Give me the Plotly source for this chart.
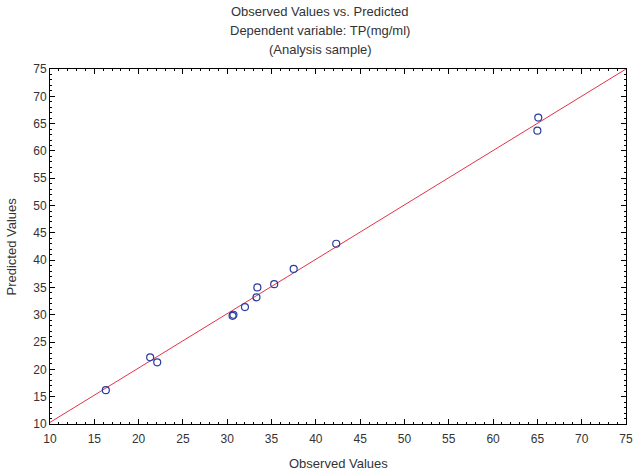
import plotly.graph_objects as go

# ====================================
# Data
# ====================================

observed = [16.3, 21.3, 22.1, 30.6, 30.7, 32.0, 33.3, 33.4, 35.3, 37.5, 42.3, 65.1, 65.0]
predicted = [16.2, 22.2, 21.3, 29.8, 30.0, 31.4, 33.2, 35.0, 35.6, 38.4, 43.0, 66.1, 63.7]

# fitted line end points
fit_x = [10, 75]
fit_y = [10.3, 75.0]

title_lines = [
    "Observed Values vs. Predicted",
    "Dependent variable: TP(mg/ml)",
    "(Analysis sample)",
]

text_color = "#333333"
family = "Liberation Sans, Arial, sans-serif"
font = dict(family=family, size=13, color=text_color)
tick_font = dict(family=family, size=12, color=text_color)

fig = go.Figure()

fig.add_trace(
    go.Scatter(
        x=fit_x,
        y=fit_y,
        mode="lines",
        line=dict(color="rgb(228,50,72)", width=1),
        showlegend=False,
        hoverinfo="skip",
    )
)

fig.add_trace(
    go.Scatter(
        x=observed,
        y=predicted,
        mode="markers",
        marker=dict(
            symbol="circle-open",
            size=7,
            color="rgb(40,60,160)",
            line=dict(width=1.2),
        ),
        showlegend=False,
    )
)

# three line title, each line placed on its own
for i, line in enumerate(title_lines):
    fig.add_annotation(
        text=line,
        xref="paper",
        yref="paper",
        x=0.469,
        y=1.1606 - i * 0.0535,
        xanchor="center",
        yanchor="middle",
        showarrow=False,
        font=font,
    )

# axis titles as annotations (margins are fixed)
fig.add_annotation(
    text="Observed Values",
    xref="paper", yref="paper",
    x=0.5, y=-0.11,
    xanchor="center", yanchor="middle",
    showarrow=False, font=font,
)
fig.add_annotation(
    text="Predicted Values",
    xref="paper", yref="paper",
    x=-0.066, y=0.5,
    xanchor="center", yanchor="middle",
    textangle=-90,
    showarrow=False, font=font,
)

axis_common = dict(
    range=[10, 75],
    dtick=5,
    showgrid=False,
    zeroline=False,
    showline=True,
    linecolor="black",
    linewidth=1,
    mirror="ticks",
    ticks="inside",
    ticklen=5,
    tickcolor="black",
    tickfont=tick_font,
    automargin=False,
    minor=dict(dtick=1, ticks="inside", ticklen=2, tickcolor="black", showgrid=False),
)

fig.update_xaxes(**axis_common, ticklabelstandoff=4)
fig.update_yaxes(**axis_common)

fig.update_layout(
    width=640,
    height=476,
    margin=dict(l=50, r=14, t=69, b=52),
    plot_bgcolor="white",
    paper_bgcolor="white",
    font=font,
)

# drop the browser's default 8px body margin so the figure fills the window
fig.write_html(
    "out.html",
    config={"displayModeBar": False},
    post_script="document.body.style.margin='0px';",
)
